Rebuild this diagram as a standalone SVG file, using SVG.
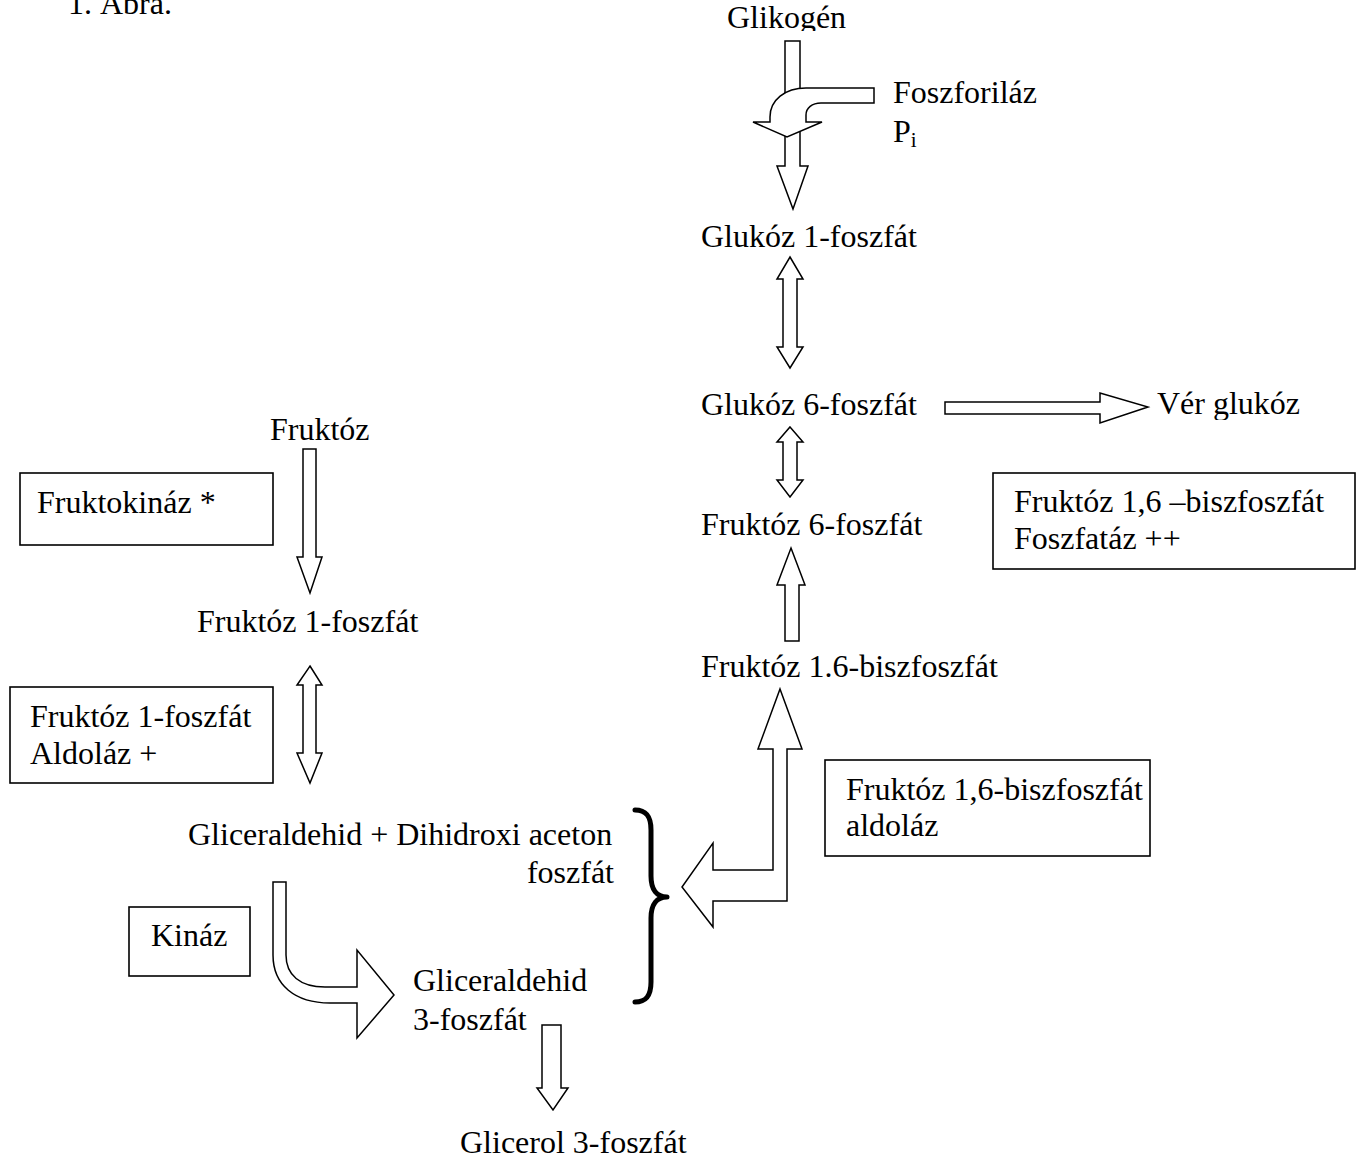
<svg xmlns="http://www.w3.org/2000/svg" width="1357" height="1167" viewBox="0 0 1357 1167">
<style>
text{font-family:"Liberation Serif","Times New Roman",serif;font-size:32px;fill:#000}
.box{fill:#fff;stroke:#000;stroke-width:1.6}
.arr{fill:#fff;stroke:#000;stroke-width:1.5;stroke-linejoin:miter}
.brace{fill:none;stroke:#000;stroke-width:5;stroke-linecap:round;stroke-linejoin:round}
</style>
<defs>
<clipPath id="clipTop"><rect x="0" y="0" width="1357" height="31"/></clipPath>
<clipPath id="clipVer"><rect x="1100" y="380" width="257" height="40"/></clipPath>
</defs>
<rect width="1357" height="1167" fill="#fff"/>
<text x="68" y="14">1. Ábra.</text>
<g id="connectors">
<path class="arr" d="M785,41 H800 V166 H808 L793,209 L777,166 H785 Z"/>
<path class="arr" d="M874,88 V103 H821 C812,103 806,108 806,115 V122 H822 L787,137 L753,122 H770 V117 C770,100 785,88 806,88 Z"/>
<path class="arr" d="M790,257 L803,279 H797 V347 H803 L790,368 L777,347 H783 V279 H777 Z"/>
<path class="arr" d="M790,427 L803,442 H797 V480 H803 L790,497 L777,480 H783 V442 H777 Z"/>
<path class="arr" d="M791,548 L805,585 H799 V641 H785 V585 H777 Z"/>
<path class="arr" d="M945,402 H1100 V393 L1148,407 L1100,423 V414 H945 Z"/>
<path class="arr" d="M303,449 H316 V557 H322 L310,593 L297,557 H303 Z"/>
<path class="arr" d="M310,666 L322,685 H316 V753 H322 L310,783 L297,753 H303 V685 H297 Z"/>
<path class="arr" d="M780,689 L802,749 H787 V901 H713 V927 L682,887 L713,843 V870 H773 V749 H758 Z"/>
<path class="arr" d="M273,882 H286 V955 C286,975 300,987 325,987 H357 V950 L394,995 L357,1038 V1003 H330 C295,1003 273,985 273,955 Z"/>
<path class="arr" d="M542,1025 H561 V1088 H568 L553,1110 L537,1088 H542 Z"/>
<path class="brace" d="M635,810 C646,810 651,816 651,830 V876 C651,890 657,897 667,897 C657,897 651,904 651,918 V982 C651,996 646,1002 635,1002"/>
</g>
<g id="glikogen"><text x="727" y="28" clip-path="url(#clipTop)">Glikogén</text></g>
<g id="foszforilaz"><text x="893" y="103">Foszforiláz</text><text x="893" y="142">P<tspan font-size="21" dy="5">i</tspan></text></g>
<g id="glukoz1"><text x="701" y="247">Glukóz 1-foszfát</text></g>
<g id="glukoz6"><text x="701" y="415">Glukóz 6-foszfát</text></g>
<g id="verglukoz"><text x="1157" y="414" clip-path="url(#clipVer)">Vér glukóz</text></g>
<g id="fruktoz"><text x="270" y="440">Fruktóz</text></g>
<g id="fruktokinaz"><rect class="box" x="20" y="473" width="253" height="72"/><text x="37" y="513">Fruktokináz *</text></g>
<g id="fruktoz6"><text x="701" y="535">Fruktóz 6-foszfát</text></g>
<g id="foszfataz"><rect class="box" x="993" y="473" width="362" height="96"/><text x="1014" y="512">Fruktóz 1,6 –biszfoszfát</text><text x="1014" y="549">Foszfatáz ++</text></g>
<g id="fruktoz1"><text x="197" y="632">Fruktóz 1-foszfát</text></g>
<g id="fruktoz16"><text x="701" y="677">Fruktóz 1.6-biszfoszfát</text></g>
<g id="aldolaz1"><rect class="box" x="10" y="687" width="263" height="96"/><text x="30" y="727">Fruktóz 1-foszfát</text><text x="30" y="764">Aldoláz +</text></g>
<g id="aldolaz16"><rect class="box" x="825" y="760" width="325" height="96"/><text x="846" y="800">Fruktóz 1,6-biszfoszfát</text><text x="846" y="836">aldoláz</text></g>
<g id="gliceraldehid"><text x="188" y="845">Gliceraldehid + Dihidroxi aceton</text><text x="614" y="883" text-anchor="end">foszfát</text></g>
<g id="kinaz"><rect class="box" x="129" y="907" width="121" height="69"/><text x="151" y="946">Kináz</text></g>
<g id="ga3p"><text x="413" y="991">Gliceraldehid</text><text x="413" y="1030">3-foszfát</text></g>
<g id="glicerol"><text x="460" y="1153">Glicerol 3-foszfát</text></g>
</svg>
